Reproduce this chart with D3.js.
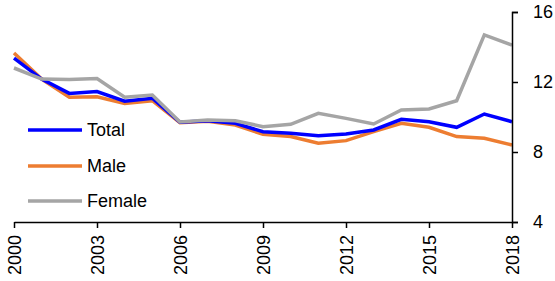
<!DOCTYPE html>
<html><head><meta charset="utf-8">
<script src="https://cdn.jsdelivr.net/npm/d3@7"></script>
<style>body{margin:0;background:#fff}svg{display:block}text{font-family:"Liberation Sans",Arial,sans-serif}</style>
</head><body><svg id="c" width="555" height="281"></svg>
<script>
const years = d3.range(2000, 2019);
const total  = [13.37,12.17,11.35,11.45,10.90,11.07,9.70,9.79,9.64,9.16,9.07,8.93,9.03,9.26,9.87,9.73,9.41,10.17,9.73];
const male   = [13.66,12.17,11.13,11.16,10.77,10.93,9.68,9.75,9.54,9.01,8.88,8.50,8.65,9.16,9.64,9.41,8.88,8.78,8.40];
const female = [12.80,12.17,12.15,12.20,11.13,11.26,9.72,9.83,9.79,9.45,9.58,10.21,9.92,9.60,10.40,10.46,10.93,14.69,14.11];
const yTicks = [4,8,12,16];
const xTicks = [2000,2003,2006,2009,2012,2015,2018];
const series = [
  {name:"Total", values:total, color:"#0000FF"},
  {name:"Male", values:male, color:"#ED7D31"},
  {name:"Female", values:female, color:"#A5A5A5"}
];
const svg = d3.select("#c");
const x = d3.scaleLinear().domain([2000,2018]).range([14,512]);
const y = d3.scaleLinear().domain([4,16]).range([222,12]);
const line = d3.line().x((d,i)=>x(years[i])).y(d=>y(d));
const order = [series[1], series[0], series[2]];
svg.selectAll("path.s").data(order).join("path")
  .attr("class","s").attr("fill","none").attr("stroke",d=>d.color)
  .attr("stroke-width",3.5).attr("stroke-linejoin","miter")
  .attr("d",d=>line(d.values));
const ax = svg.append("g").attr("transform","translate(0,222)")
  .call(d3.axisBottom(x).tickValues(xTicks).tickFormat(d3.format("d")).tickSize(6).tickSizeOuter(0));
ax.selectAll("text").attr("transform","rotate(-90)").attr("text-anchor","end")
  .attr("x",-13).attr("y",0).attr("dy","0.36em").style("font-size","18px").attr("fill","#000");
const ay = svg.append("g").attr("transform","translate(512,0)")
  .call(d3.axisRight(y).tickValues(yTicks).tickSize(6).tickSizeOuter(6));
ay.selectAll("text").attr("x",21).style("font-size","18px").attr("fill","#000");
svg.selectAll(".domain, .tick line").attr("stroke","#000").attr("stroke-width",1.5);
const lg = svg.append("g");
const ly = [130,166,201];
series.forEach((s,i)=>{
  lg.append("line").attr("x1",28).attr("x2",82).attr("y1",ly[i]).attr("y2",ly[i])
    .attr("stroke",s.color).attr("stroke-width",3.5);
  lg.append("text").attr("x",87).attr("y",ly[i]).attr("dy","0.36em")
    .style("font-size","18px").attr("fill","#000").text(s.name);
});
</script></body></html>
